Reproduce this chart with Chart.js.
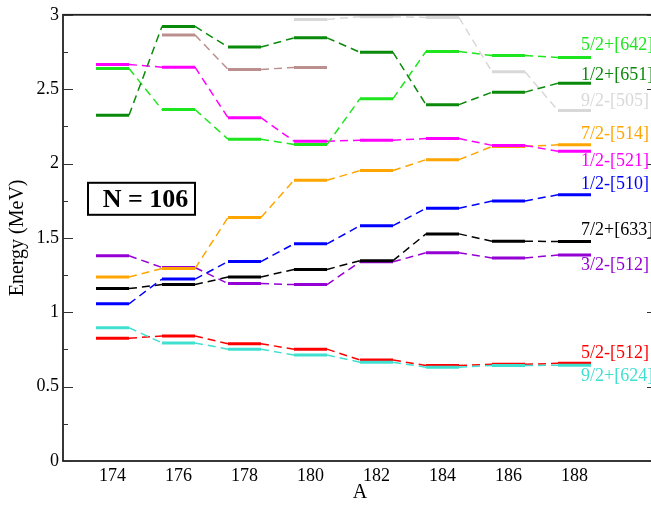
<!DOCTYPE html>
<html>
<head>
<meta charset="utf-8">
<script src="https://cdn.jsdelivr.net/npm/chart.js@4.4.0/dist/chart.umd.min.js"></script>
<style>
  html, body { margin: 0; padding: 0; overflow: hidden; background: #fff; }
  #wrap { width: 665px; height: 507px; }
</style>
</head>
<body>
<div id="wrap"><canvas id="c" width="665" height="507"></canvas></div>
<script>
// Mass numbers of the isotopes (N = 106 isotones)
const massNumbers = [174, 176, 178, 180, 182, 184, 186, 188];

// Quasi-neutron level energies (MeV); null where the level is not given
const e642 = [2.639, 2.363, 2.164, 2.128, 2.436, 2.754, 2.726, 2.713];
const e651 = [2.325, 2.922, 2.783, 2.845, 2.748, 2.396, 2.480, 2.540];
const e505 = [null, null, null, 2.969, 2.987, 2.982, 2.617, 2.356];
const eExtra = [null, 2.865, 2.633, 2.646, null, null, null, null];
const e521 = [2.666, 2.648, 2.308, 2.150, 2.157, 2.168, 2.122, 2.082];
const e514 = [1.237, 1.294, 1.637, 1.887, 1.953, 2.026, 2.115, 2.126];
const e510 = [1.057, 1.223, 1.341, 1.460, 1.582, 1.699, 1.748, 1.790];
const e633 = [1.159, 1.186, 1.237, 1.288, 1.347, 1.527, 1.478, 1.475];
const e512b = [1.380, 1.301, 1.193, 1.186, 1.339, 1.400, 1.365, 1.385];
const e512a = [0.825, 0.841, 0.788, 0.752, 0.679, 0.642, 0.650, 0.657];
const e624 = [0.896, 0.794, 0.752, 0.712, 0.664, 0.631, 0.642, 0.644];

// Energy axis tick values
const energyTicks = [0, 0.5, 1, 1.5, 2, 2.5, 3];

// Level names written at the right end, and the energy they sit at
const levelNames = ['5/2+[642]', '1/2+[651]', '9/2-[505]', '7/2-[514]', '1/2-[521]',
                    '1/2-[510]', '7/2+[633]', '3/2-[512]', '5/2-[512]', '9/2+[624]'];
const levelNameE = [2.794, 2.595, 2.416, 2.197, 2.018, 1.858, 1.553, 1.314, 0.723, 0.571];
const levelNameColors = ['#1ee61e', '#0a8a0a', '#d8d8d8', '#ffa500', '#ff00ff',
                         '#0000ff', '#000000', '#9400d3', '#ff0000', '#40e0d0'];

const series = [
  { values: e651, color: '#0a8a0a' },
  { values: eExtra, color: '#bc8f8f' },
  { values: e505, color: '#d8d8d8' },
  { values: e642, color: '#1ee61e' },
  { values: e521, color: '#ff00ff' },
  { values: e514, color: '#ffa500' },
  { values: e510, color: '#0000ff' },
  { values: e633, color: '#000000' },
  { values: e512b, color: '#9400d3' },
  { values: e624, color: '#40e0d0' },
  { values: e512a, color: '#ff0000' }
];

// Each level becomes a flat bar one mass unit wide, joined by dashed lines
function levelPoints(values) {
  const pts = [];
  values.forEach((v, i) => {
    if (v === null) return;
    pts.push({ x: massNumbers[i] - 0.5, y: v });
    pts.push({ x: massNumbers[i] + 0.5, y: v });
  });
  return pts;
}

const isLevel = ctx => ctx.p0DataIndex % 2 === 0;

const datasets = series.map(s => ({
  data: levelPoints(s.values),
  borderColor: s.color,
  pointRadius: 0,
  tension: 0,
  borderCapStyle: 'butt',
  segment: {
    borderWidth: ctx => isLevel(ctx) ? 3 : 1.5,
    borderDash: ctx => isLevel(ctx) ? [] : [8, 5]
  }
}));

const serif = "'Liberation Serif', 'DejaVu Serif', serif";

const decorations = {
  id: 'decorations',
  afterDatasetsDraw(chart) {
    const { ctx, chartArea: a, scales: { x, y } } = chart;
    ctx.save();
    // frame
    ctx.strokeStyle = '#222';
    ctx.lineWidth = 1.8;
    ctx.strokeRect(a.left, a.top, a.right - a.left, a.bottom - a.top);
    // inward tick marks on both energy axes
    ctx.lineWidth = 1.2;
    ctx.strokeStyle = '#333';
    for (let k = 0; k <= 12; k++) {
      const v = k * 0.25;
      const py = Math.round(y.getPixelForValue(v)) + 0.5;
      const len = k % 2 === 0 ? 10 : 5;
      ctx.beginPath();
      ctx.moveTo(a.left, py); ctx.lineTo(a.left + len, py);
      ctx.moveTo(a.right, py); ctx.lineTo(a.right - len, py);
      ctx.stroke();
    }
    // level names
    ctx.font = '18px ' + serif;
    ctx.textAlign = 'left';
    ctx.textBaseline = 'middle';
    levelNames.forEach((name, i) => {
      ctx.fillStyle = levelNameColors[i];
      ctx.fillText(name, x.getPixelForValue(188.2), y.getPixelForValue(levelNameE[i]));
    });
    // N = 106 box
    const bx = a.left + 25, by = a.top + 168, bw = 107, bh = 32;
    ctx.fillStyle = '#fff';
    ctx.fillRect(bx, by, bw, bh);
    ctx.strokeStyle = '#000';
    ctx.lineWidth = 2;
    ctx.strokeRect(bx, by, bw, bh);
    ctx.fillStyle = '#000';
    ctx.font = 'bold 26px ' + serif;
    ctx.textAlign = 'center';
    ctx.fillText('N = 106', bx + bw / 2 + 4, by + bh / 2 + 1);
    ctx.restore();
  }
};

new Chart(document.getElementById('c'), {
  type: 'line',
  data: { datasets },
  options: {
    responsive: false,
    animation: false,
    devicePixelRatio: 1,
    layout: { padding: { top: 9, right: 8, left: 0, bottom: 0 } },
    plugins: { legend: { display: false }, tooltip: { enabled: false } },
    scales: {
      x: {
        type: 'linear',
        min: 172.5,
        max: 190.5,
        grid: { display: false, drawTicks: false },
        border: { display: false },
        afterBuildTicks: scale => { scale.ticks = massNumbers.map(v => ({ value: v })); },
        afterFit: scale => { scale.height = 46; },
        ticks: {
          color: '#000',
          padding: 4,
          maxRotation: 0,
          font: { family: serif, size: 18 },
          callback: v => String(v)
        },
        title: {
          display: true,
          text: 'A',
          color: '#000',
          font: { family: serif, size: 20 },
          padding: { top: 0, bottom: 2 }
        }
      },
      y: {
        type: 'linear',
        min: 0,
        max: 3,
        grid: { display: false, drawTicks: false },
        border: { display: false },
        afterBuildTicks: scale => { scale.ticks = energyTicks.map(v => ({ value: v })); },
        afterFit: scale => { scale.width = 63; },
        ticks: {
          color: '#000',
          padding: 4,
          font: { family: serif, size: 18 },
          callback: v => String(v)
        },
        title: {
          display: true,
          text: 'Energy (MeV)',
          color: '#000',
          font: { family: serif, size: 20 },
          padding: { top: 6, bottom: 0 }
        }
      }
    }
  },
  plugins: [decorations]
});
</script>
</body>
</html>
